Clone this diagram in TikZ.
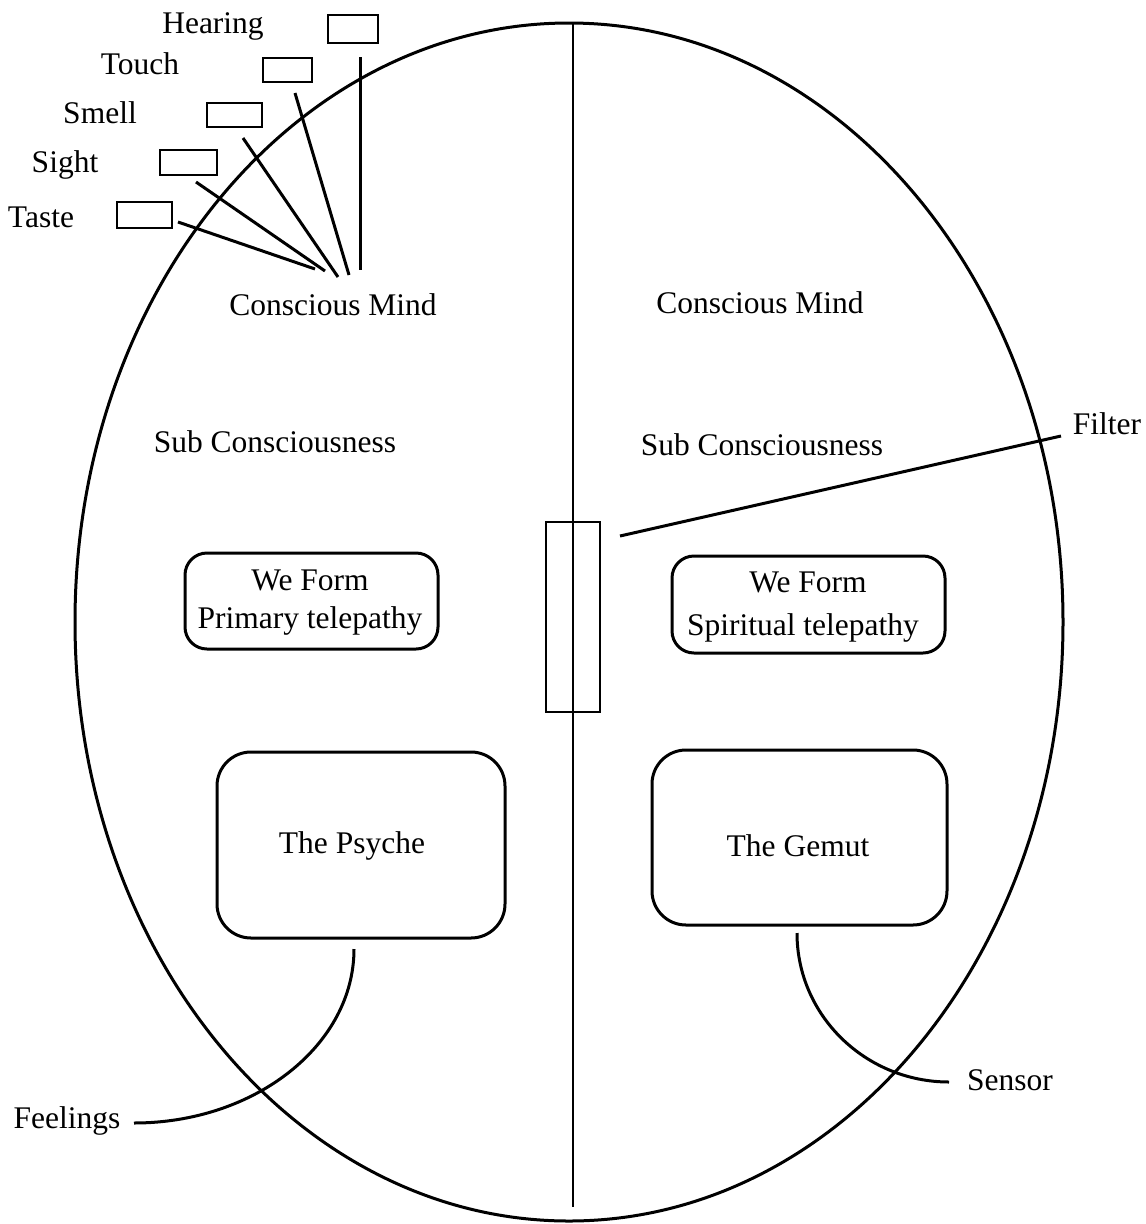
\documentclass[tikz,border=0pt]{standalone}
\usepackage{fontspec}
\setmainfont{Liberation Serif}
\begin{document}
\begin{tikzpicture}[x=1pt,y=-1pt,
  lbl/.style={font=\fontsize{31.5}{37}\selectfont, inner sep=0pt, anchor=base},
  sensebox/.style={draw, line width=2.8pt, inner sep=0pt},
  roundbox/.style={draw, line width=3pt, rounded corners=#1, inner sep=0pt},
  conn/.style={line width=3pt},
  outline/.style={line width=3pt}]
\useasboundingbox (0,0) rectangle (1146,1224);

% head outline and divider
\draw[outline] (569,622) ellipse [x radius=494, y radius=599];
\coordinate (divtop) at (573,24);
\coordinate (divbot) at (573,1207);
\draw[line width=2.6pt] (divtop) -- (divbot);

% sense boxes
\node[sensebox, minimum width=50pt, minimum height=28pt] (hearbox) at (353,29) {};
\node[sensebox, minimum width=49pt, minimum height=24pt] (touchbox) at (287.5,70) {};
\node[sensebox, minimum width=55pt, minimum height=24pt] (smellbox) at (234.5,115) {};
\node[sensebox, minimum width=57pt, minimum height=25pt] (sightbox) at (188.5,162.5) {};
\node[sensebox, minimum width=55pt, minimum height=26pt] (tastebox) at (144.5,215) {};

% sense labels
\node[lbl] (hearing) at (213,33) {Hearing};
\node[lbl] (touch) at (140,74) {Touch};
\node[lbl] (smell) at (100,123) {Smell};
\node[lbl] (sight) at (65,172) {Sight};
\node[lbl] (taste) at (41,227) {Taste};

% sense connectors
\coordinate (hearA) at (360,57);  \coordinate (hearB) at (360,270);
\coordinate (touchA) at (295,93); \coordinate (touchB) at (349,275);
\coordinate (smellA) at (243,138); \coordinate (smellB) at (338,277);
\coordinate (sightA) at (196,182); \coordinate (sightB) at (325,271);
\coordinate (tasteA) at (178,222); \coordinate (tasteB) at (315,269);
\draw[conn] (hearA) -- (hearB);
\draw[conn] (touchA) -- (touchB);
\draw[conn] (smellA) -- (smellB);
\draw[conn] (sightA) -- (sightB);
\draw[conn] (tasteA) -- (tasteB);

% level labels
\node[lbl] (cmL) at (333,315) {Conscious Mind};
\node[lbl] (cmR) at (760,313) {Conscious Mind};
\node[lbl] (scL) at (275,452) {Sub Consciousness};
\node[lbl] (scR) at (762,455) {Sub Consciousness};

% filter
\node[draw, line width=2.6pt, minimum width=54pt, minimum height=190pt, inner sep=0pt] (filterbox) at (573,617) {};
\node[lbl] (filter) at (1107,434) {Filter};
\coordinate (filA) at (620,536);
\coordinate (filB) at (1061,436);
\draw[conn] (filA) -- (filB);

% We Form boxes
\node[roundbox=22pt, minimum width=253pt, minimum height=96pt] (weL) at (311.5,601) {};
\node[lbl] (weLa) at (310,590) {We Form};
\node[lbl] (weLb) at (310,628) {Primary telepathy};
\node[roundbox=22pt, minimum width=273pt, minimum height=97pt] (weR) at (808.5,604.5) {};
\node[lbl] (weRa) at (808,592) {We Form};
\node[lbl] (weRb) at (803,635) {Spiritual telepathy};

% Psyche and Gemut
\node[roundbox=34pt, minimum width=288pt, minimum height=186pt] (psyche) at (361,845) {};
\node[lbl] (psycheT) at (352,853) {The Psyche};
\node[roundbox=34pt, minimum width=295pt, minimum height=175pt] (gemut) at (799.5,837.5) {};
\node[lbl] (gemutT) at (798,856) {The Gemut};

% Feelings and Sensor
\node[lbl] (feelings) at (67,1128) {Feelings};
\node[lbl] (sensor) at (1010,1090) {Sensor};
\coordinate (feelA) at (354,949);
\coordinate (feelB) at (134,1123);
\draw[conn] (feelA) .. controls (354,1045) and (255,1123) .. (feelB);
\coordinate (sensA) at (797,933);
\coordinate (sensB) at (949,1082);
\draw[conn] (sensA) .. controls (797,1016) and (866,1082) .. (sensB);
\end{tikzpicture}
\end{document}
